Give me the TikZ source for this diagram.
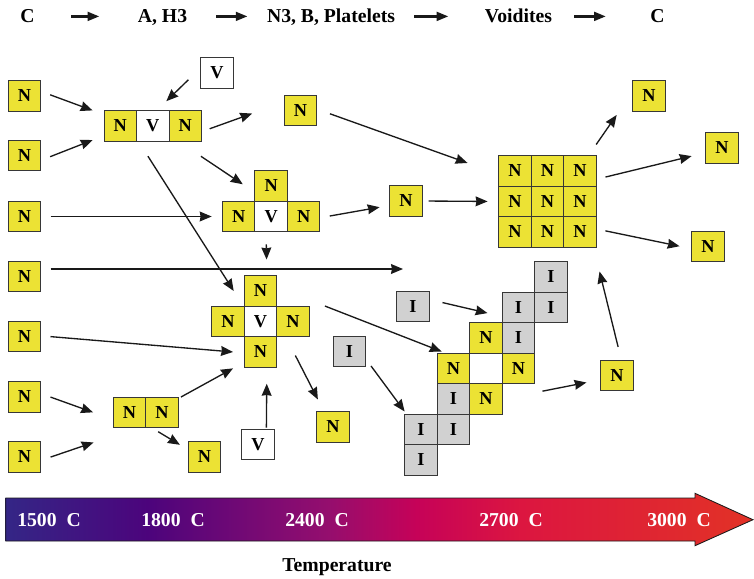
\documentclass[tikz,border=0pt]{standalone}
\usepackage{fontspec}
\setmainfont{Liberation Serif}
\usepackage{tikz}
\usetikzlibrary{arrows.meta}
\definecolor{cellyellow}{RGB}{236,226,52}
\definecolor{cellgray}{RGB}{209,209,209}
\definecolor{celledge}{RGB}{55,55,55}
\definecolor{arrink}{RGB}{25,25,25}
\definecolor{tbA}{RGB}{52,38,134}
\definecolor{tbB}{RGB}{76,4,124}
\definecolor{tbC}{RGB}{148,14,110}
\definecolor{tbD}{RGB}{198,2,88}
\definecolor{tbE}{RGB}{220,22,64}
\definecolor{tbF}{RGB}{226,50,38}
\pgfdeclarehorizontalshading{tempbar}{100bp}{color(0bp)=(tbA); color(25bp)=(tbA); color(34.5bp)=(tbB); color(46.5bp)=(tbC); color(52.5bp)=(tbD); color(59.5bp)=(tbE); color(75bp)=(tbF); color(100bp)=(tbF)}
\newcommand{\cW}{0.8125cm}
\newcommand{\cH}{0.7625cm}
\tikzset{
  cell/.style   ={draw=celledge,line width=0.7pt,minimum width=\cW,minimum height=\cH,inner sep=0pt,font=\fontsize{13}{13}\selectfont\bfseries},
  ncell/.style  ={cell,fill=cellyellow},
  vcell/.style  ={cell,fill=white},
  icell/.style  ={cell,fill=cellgray},
  lab/.style    ={inner sep=0pt,text height=9.1pt,text depth=0pt,font=\fontsize{14}{14}\selectfont\bfseries},
  tlab/.style   ={lab,text=white},
  arr/.style    ={draw=arrink,line width=0.95pt,-{Stealth[length=8.5pt,width=7pt,inset=0.6pt]}},
  bigarr/.style ={draw=arrink,line width=2.3pt,-{Triangle[length=8.5pt,width=6pt]}},
}

\begin{document}
\begin{tikzpicture}[x=0.025cm,y=-0.025cm]
      \useasboundingbox (0,0) rectangle (754,578);
      % sequence of defects
      \node[lab] (t1) at (27.5,16.4) {C};
      \node[lab] (t2) at (162.5,16.4) {A, H3};
      \node[lab] (t3) at (331,16.4) {N3, B, Platelets};
      \node[lab] (t4) at (518.5,16.4) {Voidites};
      \node[lab] (t5) at (657.5,16.4) {C};
      \draw[bigarr,shorten <=26pt,shorten >=27pt] (t1) -- (t2);
      \draw[bigarr,shorten <=20.6pt,shorten >=13.5pt] (t2) -- (t3);
      \draw[bigarr,shorten <=13.5pt,shorten >=25.6pt] (t3) -- (t4);
      \draw[bigarr,shorten <=15.6pt,shorten >=31.3pt] (t4) -- (t5);
      % single nitrogen atoms on the left
      \node[ncell] (nA1) at (24.5,96) {N};
      \node[ncell] (nA2) at (24.5,155.7) {N};
      \node[ncell] (nA3) at (24.5,216.5) {N};
      \node[ncell] (nA4) at (24.5,276.3) {N};
      \node[ncell] (nA5) at (24.5,336.7) {N};
      \node[ncell] (nA6) at (24.5,397) {N};
      \node[ncell] (nA7) at (24.5,457) {N};
      % H3 / N3 clusters
      \node[vcell] (vTop) at (217,73) {V};
      \node[ncell] (r1a) at (120.25,125.75) {N};
      \node[vcell] (r1v) at (152.75,125.75) {V};
      \node[ncell] (r1b) at (185.25,125.75) {N};
      \node[ncell] (nMid) at (300.5,110.7) {N};
      \node[ncell] (tTop) at (271.2,186) {N};
      \node[ncell] (tL) at (238.7,216.5) {N};
      \node[vcell] (tV) at (271.2,216.5) {V};
      \node[ncell] (tR) at (303.7,216.5) {N};
      \node[ncell] (nT) at (406,201) {N};
      % platelet
      \node[ncell] (g11) at (515,171) {N};
      \node[ncell] (g12) at (547.5,171) {N};
      \node[ncell] (g13) at (580,171) {N};
      \node[ncell] (g21) at (515,201.5) {N};
      \node[ncell] (g22) at (547.5,201.5) {N};
      \node[ncell] (g23) at (580,201.5) {N};
      \node[ncell] (g31) at (515,232) {N};
      \node[ncell] (g32) at (547.5,232) {N};
      \node[ncell] (g33) at (580,232) {N};
      \node[ncell] (nTR1) at (649,96) {N};
      \node[ncell] (nTR2) at (722,148) {N};
      \node[ncell] (nTR3) at (708,246.3) {N};
      % B centre
      \node[ncell] (pT) at (260.5,291) {N};
      \node[ncell] (pL) at (228,321.5) {N};
      \node[vcell] (pV) at (260.5,321.5) {V};
      \node[ncell] (pR) at (293,321.5) {N};
      \node[ncell] (pB) at (260.5,352) {N};
      \node[ncell] (d1) at (129.5,412.3) {N};
      \node[ncell] (d2) at (162,412.3) {N};
      \node[ncell] (nD) at (204.5,457) {N};
      \node[vcell] (vBot) at (258,444.7) {V};
      \node[ncell] (nP) at (333,427) {N};
      % interstitials and voidite
      \node[icell] (iA) at (349.5,351.7) {I};
      \node[icell] (iB) at (413,306.7) {I};
      \node[icell] (s1e) at (551,277) {I};
      \node[icell] (s2d) at (518.5,307.5) {I};
      \node[icell] (s2e) at (551,307.5) {I};
      \node[ncell] (s3c) at (486,338) {N};
      \node[icell] (s3d) at (518.5,338) {I};
      \node[ncell] (s4b) at (453.5,368.5) {N};
      \node[ncell] (s4d) at (518.5,368.5) {N};
      \node[icell] (s5b) at (453.5,399) {I};
      \node[ncell] (s5c) at (486,399) {N};
      \node[icell] (s6a) at (421,429.5) {I};
      \node[icell] (s6b) at (453.5,429.5) {I};
      \node[icell] (s7a) at (421,460) {I};
      \node[ncell] (nS) at (617,375.3) {N};
      % reactions
      \draw[arr,shorten <=6.8pt,shorten >=8.3pt] (nA1.15) -- (r1a.146);
      \draw[arr,shorten <=6.8pt,shorten >=8.3pt] (nA2.-15) -- (r1a.211);
      \draw[arr,shorten <=11.8pt,shorten >=9pt] (vTop.164) -- (r1v.74);
      \draw[arr,shorten <=5.8pt,shorten >=23.9pt] (r1b.-19) -- (nMid.153);
      \draw[arr,shorten <=9.6pt,shorten >=23.2pt] (nMid.5) -- (g11.190);
      \draw[arr,shorten <=18.9pt,shorten >=10pt] (r1b.248) -- (tTop.200);
      \draw[arr,shorten <=12.4pt,shorten >=13.3pt] (r1v.228) -- (pT.south west);
      \draw[arr,shorten <=6.6pt,shorten >=7.3pt] (nA3.east) -- (tL.west);
      \draw[arr,shorten <=6.7pt,shorten >=7pt] (tR.-4) -- (nT.195);
      \draw[arr,shorten <=4.1pt,shorten >=7.6pt] (nT.east) -- (g21.west);
      \draw[arr,shorten <=9.3pt,shorten >=19.5pt] (g13.61) -- (nTR1.168);
      \draw[arr,shorten <=6.4pt,shorten >=10pt] (g13.-26) -- (nTR2.196);
      \draw[arr,shorten <=6.3pt,shorten >=8.5pt] (g33.10) -- (nTR3.188);
      \draw[arr,shorten <=8.7pt,shorten >=11.2pt] (tV.252) -- (pT.68);
      \coordinate (eLong) at (403,269);
      \draw[arr,shorten <=6.6pt] (nA4.east |- eLong) -- (eLong);
      \draw[arr,shorten <=6.6pt,shorten >=7.7pt] (nA5.3) -- (pB.183);
      \draw[arr,shorten <=7pt,shorten >=14.9pt] (nA6.11) -- (d1.203);
      \draw[arr,shorten <=7pt,shorten >=31.8pt] (nA7.-11) -- (d1.-68);
      \draw[arr,shorten <=1.8pt,shorten >=8.7pt] (d2.40) -- (pB.212);
      \draw[arr,shorten <=5pt,shorten >=6.5pt] (d2.238) -- (nD.156);
      \draw[arr,shorten <=1pt,shorten >=11.4pt] (vBot.62) -- (pB.-68);
      \draw[arr,shorten <=14.6pt,shorten >=9.4pt] (pR.246) -- (nP.120);
      \draw[arr,shorten <=36.4pt,shorten >=2.4pt] (pT.12) -- (s4b.119);
      \draw[arr,shorten <=5.7pt,shorten >=2pt] (iA.-25) -- (s6a.133);
      \draw[arr,shorten <=9.3pt,shorten >=10.4pt] (iB.23) -- (s2d.208);
      \draw[arr,shorten <=28.8pt,shorten >=10pt] (s5c.east) -- (nS.195);
      \draw[arr,shorten <=9.3pt,shorten >=17.4pt] (nS.75) -- (g33.-49);
      % temperature scale
      \shadedraw[shading=tempbar,draw=arrink,line width=0.6pt] (5.7,498) -- (695,498) -- (695,493.3) -- (753,519.7) -- (695,545.7) -- (695,541) -- (5.7,541) -- cycle;
      \node[tlab] (c1500) at (49,520.3) {1500~~C};
      \node[tlab] (c1800) at (173,520.3) {1800~~C};
      \node[tlab] (c2400) at (317,520.3) {2400~~C};
      \node[tlab] (c2700) at (511,520.3) {2700~~C};
      \node[tlab] (c3000) at (679,520.3) {3000~~C};
      \node[lab] (tempLab) at (337,564.7) {Temperature};
    \end{tikzpicture}
\end{document}
